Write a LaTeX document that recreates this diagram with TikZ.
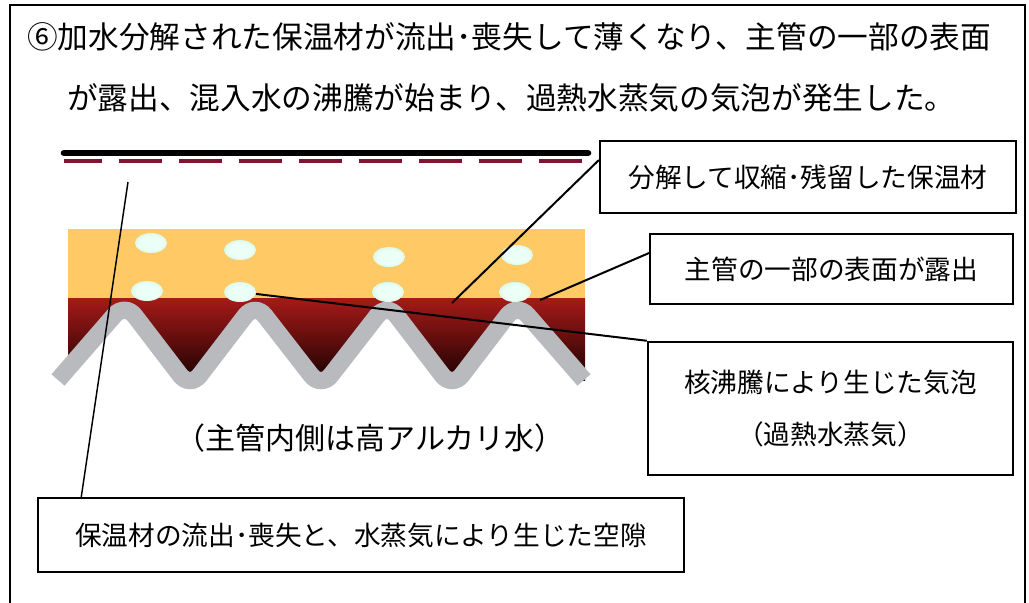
\documentclass[tikz,border=0pt]{standalone}
\usepackage{fontspec}
\setmainfont{Noto Sans CJK JP}
\usepackage{tikz}
\usetikzlibrary{shapes.geometric}

\definecolor{sand}{RGB}{255,201,102}
\definecolor{bubblecore}{RGB}{236,255,246}
\definecolor{bubblehalo}{RGB}{200,240,212}
\definecolor{rustred}{RGB}{166,26,24}
\definecolor{rustdark}{RGB}{28,2,2}
\definecolor{pipegray}{RGB}{184,186,189}
\definecolor{jacket}{RGB}{125,22,48}

% 気泡のぼかし
\pgfdeclareradialshading{steam}{\pgfpoint{0bp}{0bp}}{%
  color(0bp)=(bubblecore); color(18bp)=(bubblecore);
  color(34bp)=(bubblehalo); color(50bp)=(sand)}

\begin{document}
\begin{tikzpicture}[x=0.75pt, y=-0.75pt,
    callout/.style={draw, line width=1.6pt, rectangle, inner sep=0pt, font=\fontsize{20pt}{24pt}\selectfont},
    leader/.style={line width=1.5pt},
    bubble/.style={ellipse, inner sep=0pt, minimum width=24pt, minimum height=15pt, shade, shading=steam}]

    \useasboundingbox (0,0) rectangle (1029,603);

    % 外枠（下辺なし）
    \draw[line width=1.5pt] (10,603) -- (10,5) -- (1025,5) -- (1025,603);

    % 見出し
    \node[anchor=west, inner sep=0pt, font=\fontsize{23pt}{27pt}\selectfont] (title1) at (27,37) {⑥加水分解された保温材が流出･喪失して薄くなり、主管の一部の表面};
    \node[anchor=west, inner sep=0pt, font=\fontsize{23pt}{27pt}\selectfont] (title2) at (67,98) {が露出、混入水の沸騰が始まり、過熱水蒸気の気泡が発生した。};

    % 外装板
    \draw[line width=5pt, line cap=round] (64,153) -- (588,153);
    \draw[jacket, line width=3pt, dash pattern=on 32.25pt off 12.75pt, dash phase=3.75pt] (64,160.5) -- (588,160.5);

    % 保温材と主管
    \fill[sand] (68,229) rectangle (585,298);
    \shade[top color=rustred, bottom color=rustdark] (68,298) rectangle (585,380);
    \fill[white, rounded corners=12pt] (58,380) -- (125,303) -- (190,388) -- (255,303) -- (321,388) -- (387,303) -- (452,388) -- (517,303) -- (584,380) [sharp corners] -- (584,400) -- (58,400) -- cycle;
    \draw[pipegray, line width=13pt, rounded corners=12pt] (58,380) -- (125,303) -- (190,388) -- (255,303) -- (321,388) -- (387,303) -- (452,388) -- (517,303) -- (584,380);

    % 気泡
    \node[bubble] (b1) at (151,243) {};
    \node[bubble] (b2) at (240,250) {};
    \node[bubble] (b3) at (389,257) {};
    \node[bubble] (b4) at (517,255) {};
    \node[bubble] (b5) at (147,291) {};
    \node[bubble] (b6) at (240,292) {};
    \node[bubble] (b7) at (388,292) {};
    \node[bubble] (b8) at (515,292) {};

    % 説明
    \node[font=\fontsize{22.5pt}{27pt}\selectfont] (inner) at (370,438) {（主管内側は高アルカリ水）};

    \node[callout, minimum width=312pt, minimum height=54pt] (boxA) at (808,177) {分解して収縮･残留した保温材};
    \node[callout, minimum width=272pt, minimum height=52.5pt] (boxB) at (831.5,269) {主管の一部の表面が露出};
    \node[callout, minimum width=274pt, minimum height=100pt, align=center] (boxC) at (830.5,408.5) {核沸騰により生じた気泡\\[15pt]（過熱水蒸気）};
    \node[callout, minimum width=484pt, minimum height=55.5pt] (boxD) at (361,535) {保温材の流出･喪失と、水蒸気により生じた空隙};

    % 引出線
    \coordinate (shrunk) at (452,303);
    \coordinate (exposed) at (540,300);
    \coordinate (gap) at (128,182);
    \draw[leader] ([yshift=12.75pt]boxA.west) -- (shrunk);
    \draw[leader] ([yshift=12pt]boxB.west) -- (exposed);
    \draw[leader] (boxC.north west) -- (b6);
    \draw[line width=1.1pt] ([xshift=33pt]boxD.north west) -- (gap);
\end{tikzpicture}
\end{document}
